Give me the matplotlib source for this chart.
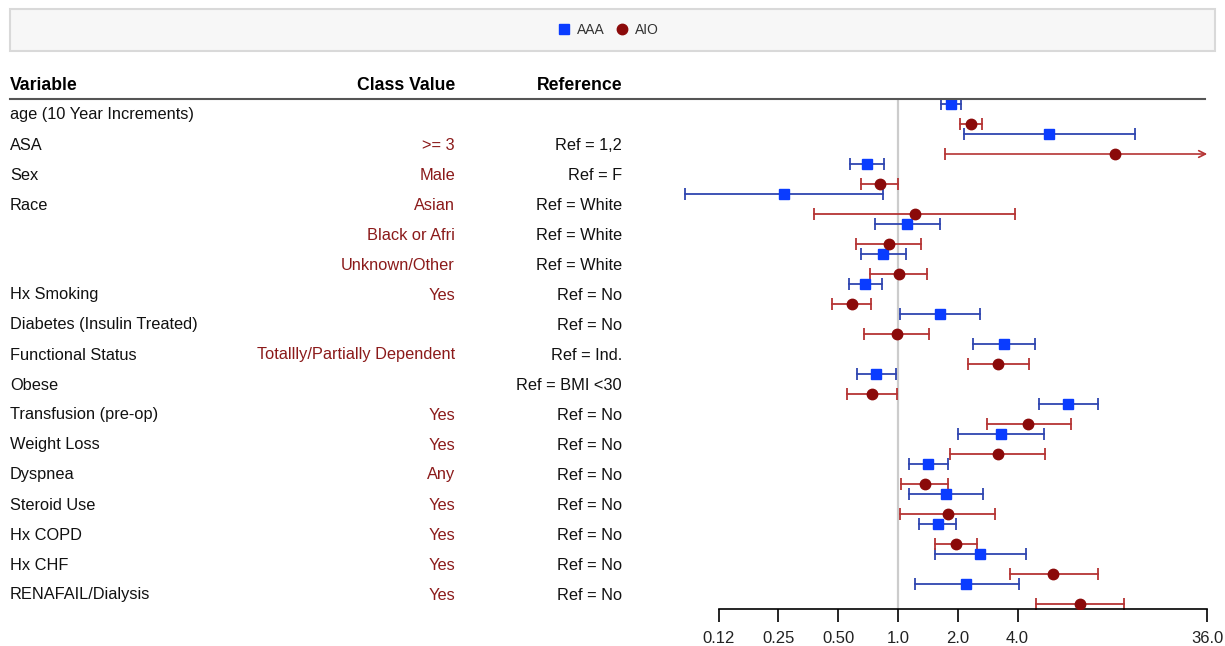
import matplotlib.pyplot as plt
from matplotlib.lines import Line2D
from matplotlib.patches import Rectangle
import matplotlib.transforms as mtransforms

plt.rcParams['font.family'] = ['Liberation Sans', 'DejaVu Sans']

# table columns
variables = ['age (10 Year Increments)', 'ASA', 'Sex', 'Race', '', '', 'Hx Smoking',
             'Diabetes (Insulin Treated)', 'Functional Status', 'Obese',
             'Transfusion (pre-op)', 'Weight Loss', 'Dyspnea', 'Steroid Use',
             'Hx COPD', 'Hx CHF', 'RENAFAIL/Dialysis']
class_values = ['', '>= 3', 'Male', 'Asian', 'Black or Afri', 'Unknown/Other', 'Yes', '',
                'Totallly/Partially Dependent', '', 'Yes', 'Yes', 'Any', 'Yes', 'Yes',
                'Yes', 'Yes']
references = ['', 'Ref = 1,2', 'Ref = F', 'Ref = White', 'Ref = White', 'Ref = White',
              'Ref = No', 'Ref = No', 'Ref = Ind.', 'Ref = BMI <30', 'Ref = No',
              'Ref = No', 'Ref = No', 'Ref = No', 'Ref = No', 'Ref = No', 'Ref = No']

# odds ratios and 95% CI
aaa_est = [1.85, 5.76, 0.695, 0.266, 1.11, 0.84, 0.683, 1.63, 3.43, 0.777, 7.17, 3.30, 1.42, 1.74, 1.59, 2.58, 2.21]
aaa_lo = [1.65, 2.15, 0.571, 0.085, 0.764, 0.648, 0.564, 1.02, 2.39, 0.621, 5.10, 2.01, 1.13, 1.13, 1.28, 1.53, 1.22]
aaa_hi = [2.08, 15.6, 0.852, 0.838, 1.62, 1.10, 0.833, 2.59, 4.92, 0.975, 10.1, 5.41, 1.78, 2.69, 1.97, 4.41, 4.05]

aio_est = [2.33, 12.3, 0.809, 1.22, 0.90, 1.01, 0.584, 0.984, 3.20, 0.736, 4.53, 3.18, 1.36, 1.78, 1.95, 6.06, 8.28]
aio_lo = [2.05, 1.72, 0.651, 0.38, 0.615, 0.72, 0.468, 0.671, 2.24, 0.552, 2.79, 1.83, 1.035, 1.02, 1.54, 3.66, 4.95]
aio_hi = [2.65, 60.0, 1.00, 3.90, 1.31, 1.40, 0.729, 1.44, 4.57, 0.984, 7.40, 5.49, 1.78, 3.09, 2.49, 10.1, 13.8]

ticks = [0.125, 0.25, 0.5, 1, 2, 4, 36]
tick_labels = ['0.12', '0.25', '0.50', '1.0', '2.0', '4.0', '36.0']
x_max = 36

W, H = 1225, 646
fig = plt.figure(figsize=(W / 100, H / 100), dpi=100)

# forest panel, y in pixel-like units
ax = fig.add_axes([640 / W, 1 - 609 / H, 575 / W, 510 / H])
ax.set_xscale('log')
ax.set_xlim(0.0503, 39.4)
ax.set_ylim(609, 99)

rows = [115 + 30 * i for i in range(len(variables))]

ax.axvline(1, color='#cccccc', lw=1.6, zorder=0)


def draw_series(est, lo, hi, dy, line_c, mark_c, marker, ms):
    for r, e, l, h in zip(rows, est, lo, hi):
        y = r + dy
        if h > x_max:
            ax.annotate('', xy=(x_max, y), xytext=(l, y),
                        arrowprops=dict(arrowstyle='->', color=line_c, lw=1.2,
                                        shrinkA=0, shrinkB=0, mutation_scale=12))
            ax.plot([l], [y], marker='|', ms=8, mew=1.3, color=line_c)
        else:
            ax.plot([l, h], [y, y], color=line_c, lw=1.3)
            ax.plot([l, h], [y, y], ls='none', marker='|', ms=8, mew=1.3, color=line_c)
        ax.plot([e], [y], marker=marker, ms=ms, color=mark_c, mec=mark_c, zorder=3)


draw_series(aaa_est, aaa_lo, aaa_hi, -11, '#2f45b0', '#0a3cff', 's', 7.5)
draw_series(aio_est, aio_lo, aio_hi, 9, '#b53434', '#8b0a0a', 'o', 7.5)

for s in ['top', 'right', 'left']:
    ax.spines[s].set_visible(False)
ax.spines['bottom'].set_bounds(0.125, 36)
ax.spines['bottom'].set_linewidth(1.2)
ax.set_yticks([])
ax.set_xticks(ticks)
ax.set_xticklabels(tick_labels, fontsize=12, color='#222222')
ax.minorticks_off()
ax.tick_params(axis='x', length=9, width=1.2, pad=7)

# table text
trans = mtransforms.blended_transform_factory(fig.transFigure, ax.transData)
fs = 11.8
hfs = 12.7
fig.text(10 / W, 1 - 85 / H, 'Variable', fontsize=hfs, fontweight='bold', va='center')
fig.text(455 / W, 1 - 85 / H, 'Class Value', fontsize=hfs, fontweight='bold', va='center', ha='right')
fig.text(622 / W, 1 - 85 / H, 'Reference', fontsize=hfs, fontweight='bold', va='center', ha='right')
for r, v, c, ref in zip(rows, variables, class_values, references):
    ax.text(10 / W, r, v, transform=trans, fontsize=fs, va='center', color='#111111')
    ax.text(455 / W, r, c, transform=trans, fontsize=fs, va='center', ha='right', color='#8b1a1a')
    ax.text(622 / W, r, ref, transform=trans, fontsize=fs, va='center', ha='right', color='#111111')

fig.add_artist(Line2D([10 / W, 1205 / W], [1 - 99 / H, 1 - 99 / H], color='#555555', lw=1.5))

# legend box
fig.add_artist(Rectangle((10 / W, 1 - 51 / H), 1205 / W, 42 / H, transform=fig.transFigure,
                         facecolor='#f7f7f7', edgecolor='#d9d9d9', lw=1.5))
handles = [Line2D([], [], ls='none', marker='s', ms=7, color='#0a3cff', label='AAA'),
           Line2D([], [], ls='none', marker='o', ms=7.5, color='#8b0a0a', label='AIO')]
fig.legend(handles=handles, loc='center', bbox_to_anchor=(608 / W, 1 - 30 / H), ncol=2,
           frameon=False, fontsize=10, handletextpad=0.4, columnspacing=0.8,
           handlelength=1.0, labelcolor='#333333')

fig.savefig('out.png', dpi=100)
